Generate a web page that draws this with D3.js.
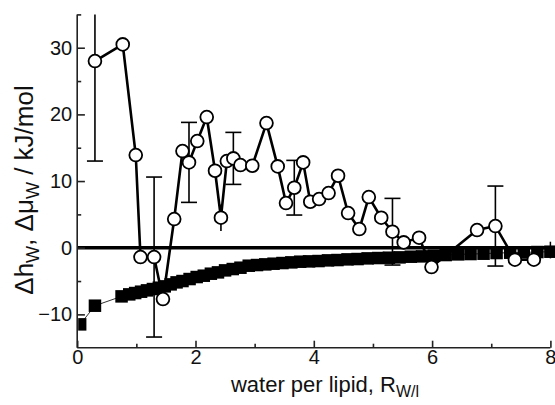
<!DOCTYPE html>
<html><head><meta charset="utf-8">
<script src="https://cdn.jsdelivr.net/npm/d3@7"></script>
<style>html,body{margin:0;padding:0;background:#fff}svg{display:block}text{font-family:"Liberation Sans",Arial,Helvetica,sans-serif;fill:#111}</style>
</head><body><svg id="c" width="555" height="405"></svg>
<script>
// open circles (Δh_w)
const circX = [0.30,0.77,0.99,1.07,1.30,1.45,1.64,1.78,1.89,2.03,2.19,2.33,2.43,2.53,2.64,2.76,2.96,3.20,3.39,3.53,3.67,3.82,3.94,4.09,4.25,4.41,4.58,4.77,4.93,5.14,5.33,5.52,5.78,5.99,6.76,7.07,7.40,7.72];
const circY = [28.0,30.5,13.9,-1.4,-1.4,-7.7,4.3,14.5,12.8,16.0,19.6,11.55,4.5,13.0,13.4,12.4,12.3,18.7,12.2,6.7,9.0,12.8,6.9,7.3,8.2,10.8,5.2,2.8,7.6,4.5,2.4,0.8,1.5,-2.9,2.65,3.25,-1.8,-1.8];
// error bars on selected circles
const errX = [0.30,1.30,1.89,2.43,2.64,3.67,5.33,7.07];
const errY = [28.0,-1.4,12.8,4.5,13.4,9.0,2.4,3.25];
const errD = [15,12,6,2,3.9,4.1,5,6];
// filled squares (Δμ_w)
const sqX = [0.05,0.30,0.75,0.88,0.98,1.08,1.18,1.28,1.38,1.48,1.58,1.68,1.78,1.90,2.02,2.14,2.26,2.38,2.50,2.63,2.76,2.90,3.04,3.18,3.32,3.47,3.62,3.77,3.92,4.08,4.24,4.40,4.57,4.74,4.91,5.09,5.27,5.45,5.64,5.83,6.03,6.23,6.44,6.65,6.87,7.09,7.32,7.55,7.78,8.00];
const sqY = [-11.5,-8.7,-7.3,-7.0,-6.8,-6.6,-6.4,-6.2,-6.0,-5.8,-5.5,-5.2,-5.0,-4.7,-4.4,-4.2,-3.9,-3.7,-3.4,-3.2,-3.0,-2.7,-2.6,-2.5,-2.4,-2.3,-2.2,-2.1,-2.05,-2.0,-1.9,-1.85,-1.75,-1.7,-1.6,-1.55,-1.5,-1.45,-1.35,-1.3,-1.2,-1.1,-1.0,-0.95,-0.9,-0.8,-0.75,-0.7,-0.65,-0.6];
const xTicks = [0,2,4,6,8];
const xMinor = [1,3,5,7];
const yTicks = [-10,0,10,20,30];
const yMinor = [-5,5,15,25,35];

const svg = d3.select("#c");
const x = d3.scaleLinear().domain([0,8]).range([77.2,550.4]);
const y = d3.scaleLinear().domain([-15,35]).range([347.7,14.4]);
const axCol = "#222";

// zero line
svg.append("line").attr("x1",x(0)).attr("x2",555).attr("y1",y(0)).attr("y2",y(0))
  .attr("stroke","#000").attr("stroke-width",3.5);

// axes
const gx = svg.append("g").attr("transform",`translate(0,${y(-15)})`)
  .call(d3.axisBottom(x).tickValues(xTicks).tickSize(-7).tickPadding(12).tickFormat(d3.format("d")));
svg.append("g").attr("transform",`translate(0,${y(-15)})`)
  .call(d3.axisBottom(x).tickValues(xMinor).tickSize(-4).tickFormat(""))
  .call(g=>g.select(".domain").remove());
const gy = svg.append("g").attr("transform",`translate(${x(0)},0)`)
  .call(d3.axisLeft(y).tickValues(yTicks).tickSize(-7.7).tickPadding(6).tickFormat(d3.format("d")));
svg.append("g").attr("transform",`translate(${x(0)},0)`)
  .call(d3.axisLeft(y).tickValues(yMinor).tickSize(-4).tickFormat(""))
  .call(g=>g.select(".domain").remove());
svg.selectAll(".domain").attr("stroke",axCol).attr("stroke-width",1.6);
svg.selectAll(".tick line").attr("stroke",axCol).attr("stroke-width",1.6);
svg.selectAll(".tick text").attr("font-size",20).attr("font-family","Liberation Sans, Arial, sans-serif").attr("fill","#111");
gx.selectAll(".tick text").attr("dy","0.2em");
gy.selectAll(".tick text").attr("x",-5);
gx.select(".domain").attr("d",`M${x(0)},0H${x(8)}`);
gy.select(".domain").attr("d",`M0,${y(-15)}V${y(35)}`);

// squares line and squares
const sqData = sqX.map((v,i)=>({x:v,y:sqY[i]}));
svg.append("path").datum(sqData)
  .attr("d",d3.line().x(d=>x(d.x)).y(d=>y(d.y)))
  .attr("fill","none").attr("stroke","#333").attr("stroke-width",1);
const s = 12.5;
svg.append("g").selectAll("rect").data(sqData).join("rect")
  .attr("x",d=>Math.max(x(d.x)-s/2, x(0)+1)).attr("y",d=>y(d.y)-s/2)
  .attr("width",d=>x(d.x)+s/2-Math.max(x(d.x)-s/2, x(0)+1)).attr("height",s).attr("fill","#000");
// small end mark at x=8
svg.append("line").attr("x1",x(8)).attr("x2",x(8)).attr("y1",y(0.9)).attr("y2",y(-1.6))
  .attr("stroke","#000").attr("stroke-width",1.5);

// circles line
const cData = circX.map((v,i)=>({x:v,y:circY[i]}));
svg.append("path").datum(cData)
  .attr("d",d3.line().x(d=>x(d.x)).y(d=>y(d.y)))
  .attr("fill","none").attr("stroke","#000").attr("stroke-width",2.6).attr("stroke-linejoin","round");

// error bars
const eg = svg.append("g").attr("stroke","#000").attr("stroke-width",1.6);
errX.forEach((ex,i)=>{
  const hi = errY[i]+errD[i], lo = errY[i]-errD[i];
  const top = Math.min(hi,35);
  eg.append("line").attr("x1",x(ex)).attr("x2",x(ex)).attr("y1",y(top)).attr("y2",y(lo));
  if (errD[i] > 2.5) {
    if (hi <= 35) eg.append("line").attr("x1",x(ex)-8).attr("x2",x(ex)+8).attr("y1",y(hi)).attr("y2",y(hi));
    eg.append("line").attr("x1",x(ex)-8).attr("x2",x(ex)+8).attr("y1",y(lo)).attr("y2",y(lo));
  }
});

// circles
svg.append("g").selectAll("circle").data(cData).join("circle")
  .attr("cx",d=>x(d.x)).attr("cy",d=>y(d.y)).attr("r",6.4)
  .attr("fill","#fff").attr("stroke","#000").attr("stroke-width",1.8);

// axis titles
const xt = svg.append("text").attr("x",325).attr("y",392).attr("text-anchor","middle").attr("font-size",22);
xt.append("tspan").text("water per lipid, R");
xt.append("tspan").attr("dy",5).attr("font-size",16).text("W/l");

const yt = svg.append("text").attr("transform","translate(33,190) rotate(-90)").attr("text-anchor","middle").attr("font-size",26);
yt.append("tspan").text("Δh");
yt.append("tspan").attr("dy",6).attr("font-size",18).text("W");
yt.append("tspan").attr("dy",-6).text(", Δμ");
yt.append("tspan").attr("dy",6).attr("font-size",18).text("W");
yt.append("tspan").attr("dy",-6).text(" / kJ/mol");
</script></body></html>
